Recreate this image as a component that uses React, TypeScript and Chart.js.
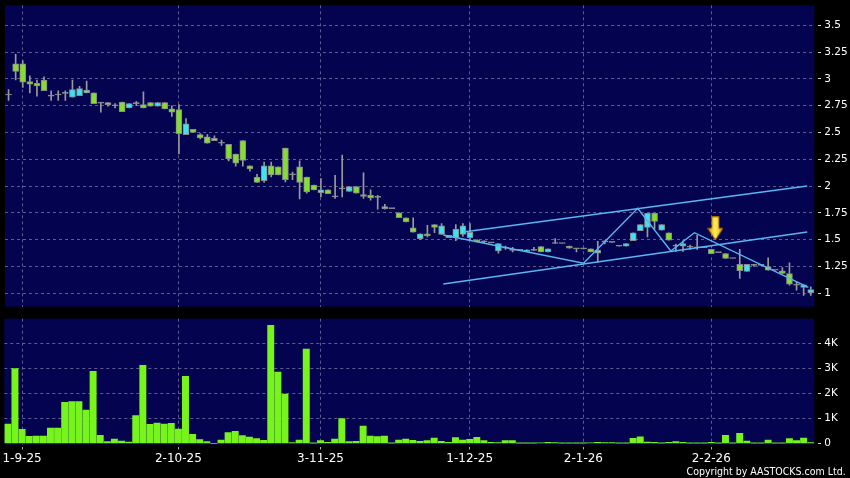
import React, { useEffect, useRef } from 'react';
import { Chart, registerables } from 'chart.js';

Chart.register(...registerables);

// ---- Data ----
const opens = [
  2.85, 3.14, 3.14, 2.975, 2.96, 2.99, 2.84, 2.85, 2.865, 2.83,
  2.845, 2.87, 2.87, 2.775, 2.78, 2.75, 2.785, 2.73, 2.77, 2.76,
  2.78, 2.745, 2.78, 2.72, 2.715, 2.48, 2.53, 2.48, 2.46, 2.425,
  2.40, 2.39, 2.30, 2.425, 2.19, 2.085, 2.05, 2.19, 2.18, 2.355,
  2.105, 2.18, 2.085, 2.01, 1.94, 1.965, 1.90, 1.975, 1.95, 1.995,
  1.905, 1.915, 1.895, 1.81, 1.79, 1.75, 1.705, 1.61, 1.51, 1.555,
  1.64, 1.55, 1.54, 1.52, 1.55, 1.52, 1.50, 1.48, 1.47, 1.395,
  1.42, 1.40, 1.40, 1.39, 1.40, 1.435, 1.385, 1.465, 1.465, 1.44,
  1.415, 1.415, 1.415, 1.375, 1.48, 1.475, 1.44, 1.44, 1.49, 1.585,
  1.615, 1.745, 1.59, 1.565, 1.44, 1.44, 1.43, 1.425, 1.425, 1.41,
  1.38, 1.37, 1.325, 1.27, 1.205, 1.26, 1.26, 1.25, 1.215, 1.21,
  1.185, 1.075, 1.055, 1.005,
];
const highs = [
  2.90, 3.23, 3.17, 3.03, 2.99, 3.02, 2.89, 2.89, 2.89, 2.99,
  2.93, 2.98, 2.87, 2.775, 2.78, 2.77, 2.785, 2.77, 2.79, 2.88,
  2.78, 2.78, 2.78, 2.75, 2.76, 2.63, 2.53, 2.49, 2.48, 2.47,
  2.43, 2.39, 2.30, 2.425, 2.19, 2.11, 2.225, 2.225, 2.18, 2.355,
  2.13, 2.235, 2.085, 2.01, 2.07, 1.965, 2.10, 2.29, 1.995, 1.995,
  2.125, 1.965, 1.915, 1.83, 1.79, 1.75, 1.705, 1.705, 1.555, 1.635,
  1.64, 1.65, 1.54, 1.64, 1.65, 1.65, 1.50, 1.49, 1.47, 1.465,
  1.44, 1.43, 1.40, 1.405, 1.43, 1.435, 1.415, 1.51, 1.465, 1.44,
  1.415, 1.415, 1.415, 1.485, 1.49, 1.475, 1.44, 1.465, 1.565, 1.64,
  1.745, 1.745, 1.64, 1.565, 1.46, 1.49, 1.45, 1.54, 1.425, 1.41,
  1.38, 1.37, 1.325, 1.41, 1.27, 1.27, 1.26, 1.33, 1.215, 1.24,
  1.285, 1.105, 1.08, 1.06,
];
const lows = [
  2.80, 2.99, 2.92, 2.87, 2.84, 2.89, 2.80, 2.80, 2.80, 2.83,
  2.845, 2.87, 2.77, 2.69, 2.745, 2.73, 2.695, 2.73, 2.75, 2.73,
  2.745, 2.745, 2.72, 2.65, 2.30, 2.48, 2.50, 2.44, 2.40, 2.425,
  2.38, 2.235, 2.185, 2.185, 2.14, 2.035, 2.035, 2.085, 2.105, 2.04,
  2.06, 1.88, 1.935, 1.965, 1.90, 1.93, 1.885, 1.90, 1.95, 1.935,
  1.885, 1.87, 1.785, 1.785, 1.79, 1.705, 1.665, 1.57, 1.50, 1.525,
  1.565, 1.55, 1.52, 1.49, 1.53, 1.49, 1.48, 1.47, 1.47, 1.375,
  1.41, 1.385, 1.40, 1.39, 1.40, 1.385, 1.385, 1.465, 1.465, 1.42,
  1.385, 1.415, 1.385, 1.29, 1.46, 1.475, 1.44, 1.44, 1.49, 1.585,
  1.525, 1.60, 1.59, 1.495, 1.39, 1.39, 1.41, 1.41, 1.425, 1.37,
  1.38, 1.325, 1.325, 1.14, 1.205, 1.25, 1.26, 1.215, 1.215, 1.185,
  1.075, 1.03, 0.98, 0.98,
];
const closes = [
  2.85, 3.07, 2.97, 2.95, 2.935, 2.89, 2.84, 2.85, 2.865, 2.90,
  2.91, 2.895, 2.77, 2.775, 2.76, 2.75, 2.695, 2.77, 2.77, 2.73,
  2.745, 2.78, 2.72, 2.69, 2.49, 2.58, 2.50, 2.45, 2.40, 2.445,
  2.40, 2.255, 2.215, 2.24, 2.16, 2.035, 2.19, 2.105, 2.105, 2.06,
  2.105, 2.035, 1.945, 1.965, 1.965, 1.93, 1.90, 1.975, 1.995, 1.935,
  1.92, 1.89, 1.895, 1.79, 1.79, 1.705, 1.665, 1.57, 1.555, 1.535,
  1.615, 1.63, 1.52, 1.60, 1.63, 1.57, 1.48, 1.48, 1.47, 1.465,
  1.42, 1.40, 1.40, 1.405, 1.40, 1.385, 1.415, 1.465, 1.465, 1.42,
  1.415, 1.415, 1.385, 1.40, 1.48, 1.475, 1.44, 1.465, 1.565, 1.64,
  1.745, 1.67, 1.64, 1.495, 1.44, 1.465, 1.43, 1.425, 1.425, 1.37,
  1.38, 1.325, 1.325, 1.21, 1.27, 1.26, 1.26, 1.215, 1.215, 1.185,
  1.085, 1.075, 1.08, 1.035,
];
// volume in thousands
const volumes = [
  0.77, 2.99, 0.56, 0.28, 0.29, 0.29, 0.61, 0.61, 1.64, 1.67,
  1.67, 1.33, 2.88, 0.32, 0.07, 0.17, 0.09, 0.05, 1.11, 3.12,
  0.76, 0.81, 0.77, 0.80, 0.57, 2.68, 0.36, 0.15, 0.07, 0.0,
  0.13, 0.43, 0.48, 0.31, 0.25, 0.19, 0.12, 4.72, 2.85, 1.97,
  0.03, 0.13, 3.77, 0.01, 0.11, 0.04, 0.17, 0.99, 0.07, 0.08,
  0.69, 0.29, 0.27, 0.29, 0.01, 0.13, 0.17, 0.12, 0.08, 0.11,
  0.21, 0.08, 0.04, 0.23, 0.13, 0.16, 0.24, 0.11, 0.04, 0.03,
  0.11, 0.11, 0.01, 0.01, 0.01, 0.02, 0.04, 0.03, 0.01, 0.01,
  0.01, 0.01, 0.02, 0.04, 0.03, 0.03, 0.01, 0.01, 0.20, 0.26,
  0.05, 0.04, 0.01, 0.04, 0.07, 0.04, 0.01, 0.01, 0.01, 0.04,
  0.01, 0.32, 0.01, 0.40, 0.09, 0.01, 0.01, 0.13, 0.01, 0.01,
  0.19, 0.11, 0.21, 0.03,
];

const xTickIndex = [2, 24, 44, 65, 81, 99];
const xTickLabels = ['1-9-25', '2-10-25', '3-11-25', '1-12-25', '2-1-26', '2-2-26'];
const priceTicks = [1, 1.25, 1.5, 1.75, 2, 2.25, 2.5, 2.75, 3, 3.25, 3.5];
const volumeTicks = [0, 1, 2, 3, 4];

const upperChannelX = [64.06, 112.5];
const upperChannelY = [1.572, 2.001];
const lowerChannelX = [61.24, 112.5];
const lowerChannelY = [1.087, 1.572];
const zigzagX = [61.24, 80.99, 88.62, 93.29, 96.61, 112.66];
const zigzagY = [1.544, 1.28, 1.793, 1.395, 1.565, 1.056];
const arrowX = [99.56];
const arrowY = [1.606];

// ---- Styles ----
const PANEL = '#03034f';
const GRID = '#5c5c92';
const GREEN = '#86dc34';
const CYAN = '#3ee2f0';
const GRAY = '#9a9a9a';
const BORDER = '#8a8a8a';
const VOL = '#76f41c';
const LINE = '#5ab6f0';
const FONT = "'DejaVu Sans', sans-serif";

const panelBg = {
  id: 'panelBg',
  beforeDraw(chart: any) {
    const { ctx, chartArea } = chart;
    if (!chartArea) return;
    ctx.save();
    ctx.fillStyle = PANEL;
    ctx.fillRect(chartArea.left, chartArea.top, chartArea.right - chartArea.left, chartArea.bottom - chartArea.top);
    ctx.restore();
  },
};

function makeArrow() {
  const c = document.createElement('canvas');
  c.width = 16;
  c.height = 24;
  const g = c.getContext('2d')!;
  const grad = g.createLinearGradient(0, 0, 16, 0);
  grad.addColorStop(0, '#e09000');
  grad.addColorStop(0.5, '#fff25a');
  grad.addColorStop(1, '#e09000');
  g.fillStyle = grad;
  g.strokeStyle = '#a86a00';
  g.lineWidth = 1;
  g.beginPath();
  g.moveTo(4.5, 0.5);
  g.lineTo(11.5, 0.5);
  g.lineTo(11.5, 12);
  g.lineTo(15.5, 12);
  g.lineTo(8, 23.5);
  g.lineTo(0.5, 12);
  g.lineTo(4.5, 12);
  g.closePath();
  g.fill();
  g.stroke();
  return c;
}

const tickLabel = (v: any) => {
  const k = xTickIndex.indexOf(Number(v));
  return k >= 0 ? xTickLabels[k] : '';
};

export default function App() {
  const priceRef = useRef<HTMLCanvasElement>(null);
  const volRef = useRef<HTMLCanvasElement>(null);

  useEffect(() => {
    const n = opens.length;
    const idx = opens.map((_, i) => i);
    const wickData = idx.map((i) => ({ x: i, y: [lows[i], highs[i]] }));
    const bodyData = idx.map((i) => ({ x: i, y: [opens[i], closes[i]] }));
    const bodyColors = idx.map((i) => (closes[i] > opens[i] ? CYAN : closes[i] < opens[i] ? GREEN : GRAY));
    const pts = (xs: number[], ys: number[]) => xs.map((x, i) => ({ x, y: ys[i] }));

    const xBase: any = {
      type: 'linear',
      min: -0.5,
      max: n - 0.5,
      offset: false,
      afterBuildTicks: (s: any) => {
        s.ticks = xTickIndex.map((v) => ({ value: v }));
      },
    };

    const lineDs = (xs: number[], ys: number[]) =>
      ({ type: 'line', data: pts(xs, ys), borderColor: LINE, borderWidth: 1.4, pointRadius: 0, order: 1 } as any);

    const price = new Chart(priceRef.current!, {
      type: 'bar',
      data: {
        datasets: [
          {
            type: 'scatter',
            data: pts(arrowX, arrowY),
            pointStyle: makeArrow() as any,
            order: 0,
          } as any,
          lineDs(zigzagX, zigzagY),
          lineDs(upperChannelX, upperChannelY),
          lineDs(lowerChannelX, lowerChannelY),
          {
            data: bodyData as any,
            backgroundColor: bodyColors,
            borderColor: BORDER,
            borderWidth: 1,
            borderSkipped: false,
            barThickness: 6,
            minBarLength: 1,
            grouped: false,
            order: 2,
          } as any,
          {
            data: wickData as any,
            backgroundColor: GRAY,
            borderWidth: 0,
            barThickness: 1,
            grouped: false,
            order: 3,
          } as any,
        ],
      },
      options: {
        responsive: false,
        animation: false,
        devicePixelRatio: 1,
        layout: { padding: { left: 4.3, top: 5.3, bottom: 5.3, right: 0 } },
        plugins: { legend: { display: false }, tooltip: { enabled: false } },
        scales: {
          x: {
            ...xBase,
            grid: { color: GRID, offset: false, drawTicks: false },
            border: { display: false, dash: [3, 3] },
            ticks: { display: false },
            afterFit: (s: any) => {
              s.height = 0;
              s.paddingLeft = 0;
              s.paddingRight = 0;
            },
          },
          y: {
            type: 'linear',
            position: 'right',
            min: 0.875,
            max: 3.687,
            grid: { color: GRID, drawTicks: true, tickLength: 7, tickColor: '#d8d8d8', tickBorderDash: [0, 4, 3, 0] },
            border: { display: false, dash: [3, 3] },
            ticks: { color: '#ffffff', font: { family: FONT, size: 10.5 }, padding: 3, callback: (v: any) => String(v) },
            afterBuildTicks: (s: any) => {
              s.ticks = priceTicks.map((v) => ({ value: v }));
            },
            afterFit: (s: any) => {
              s.width = 35.7;
              s.paddingTop = 0;
              s.paddingBottom = 0;
            },
          },
        } as any,
      },
      plugins: [panelBg],
    });

    const vol = new Chart(volRef.current!, {
      type: 'bar',
      data: {
        datasets: [
          {
            data: volumes.map((v, i) => ({ x: i, y: v })) as any,
            backgroundColor: VOL,
            borderWidth: 0,
            barThickness: 6.3,
            grouped: false,
          } as any,
        ],
      },
      options: {
        responsive: false,
        animation: false,
        devicePixelRatio: 1,
        layout: { padding: { left: 4.3, top: 6.7, bottom: 0, right: 0 } },
        plugins: { legend: { display: false }, tooltip: { enabled: false } },
        scales: {
          x: {
            ...xBase,
            grid: { color: GRID, offset: false, drawTicks: true, tickLength: 5, tickColor: '#aaaaaa', tickBorderDash: [0, 2, 3, 0] },
            border: { display: false, dash: [3, 3] },
            ticks: {
              color: '#ffffff',
              font: { family: FONT, size: 12 },
              padding: 2.5,
              maxRotation: 0,
              autoSkip: false,
              callback: tickLabel,
            },
            afterFit: (s: any) => {
              s.height = 33.5;
              s.paddingLeft = 0;
              s.paddingRight = 0;
            },
          },
          y: {
            type: 'linear',
            position: 'right',
            min: -0.048,
            max: 4.984,
            grid: {
              color: (c: any) => (c.tick && c.tick.value === 0 ? 'rgba(0,0,0,0)' : GRID),
              drawTicks: true,
              tickLength: 7,
              tickColor: '#d8d8d8',
              tickBorderDash: [0, 4, 3, 0],
            },
            border: { display: false, dash: [3, 3] },
            ticks: {
              color: '#ffffff',
              font: { family: FONT, size: 10.5 },
              padding: 3,
              callback: (v: any) => (Number(v) === 0 ? '0' : v + 'K'),
            },
            afterBuildTicks: (s: any) => {
              s.ticks = volumeTicks.map((v) => ({ value: v }));
            },
            afterFit: (s: any) => {
              s.width = 35.7;
              s.paddingTop = 0;
              s.paddingBottom = 0;
            },
          },
        } as any,
      },
      plugins: [panelBg],
    });

    return () => {
      price.destroy();
      vol.destroy();
    };
  }, []);

  return (
    <div
      style={{
        position: 'fixed',
        left: 0,
        top: 0,
        width: 850,
        height: 478,
        background: '#000000',
        overflow: 'hidden',
      }}
    >
      <canvas ref={priceRef} width={850} height={312} style={{ position: 'absolute', left: 0, top: 0 }} />
      <canvas ref={volRef} width={850} height={166} style={{ position: 'absolute', left: 0, top: 312 }} />
      <div
        style={{
          position: 'absolute',
          right: 4.3,
          top: 464.7,
          color: '#ffffff',
          fontFamily: "'DejaVu Sans Condensed', 'DejaVu Sans', sans-serif",
          fontSize: 10.5,
          lineHeight: '12px',
          whiteSpace: 'nowrap',
        }}
      >
        Copyright by AASTOCKS.com Ltd.
      </div>
    </div>
  );
}
